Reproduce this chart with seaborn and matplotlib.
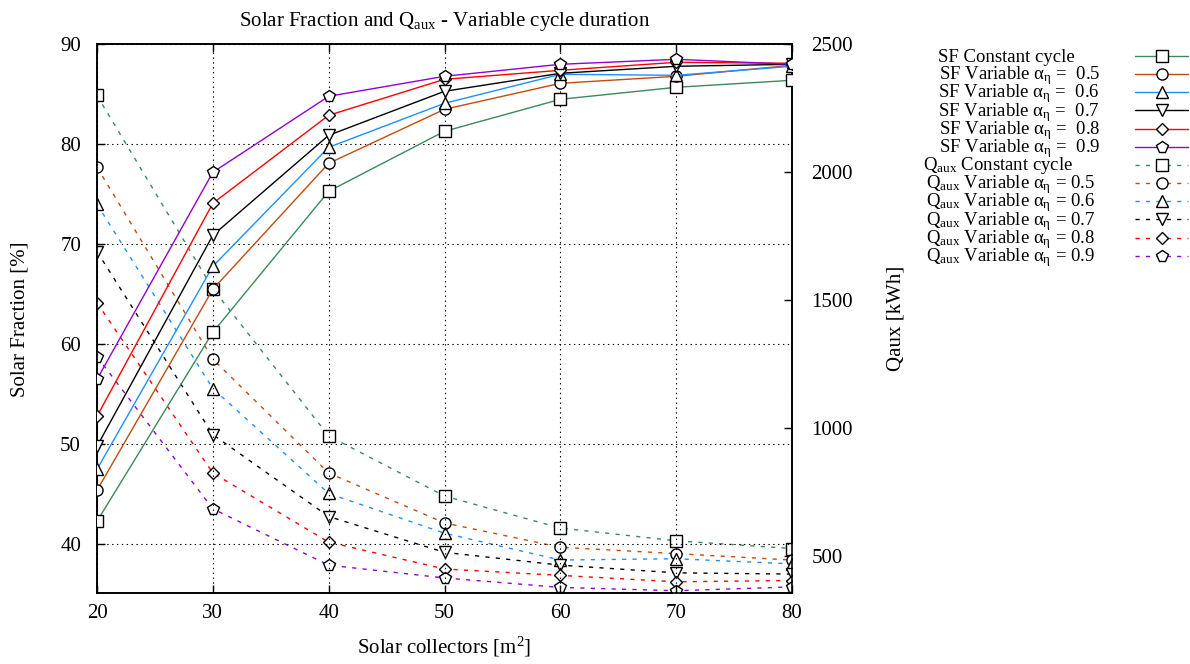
import matplotlib
matplotlib.use("Agg")
import matplotlib.pyplot as plt
from matplotlib.lines import Line2D
import seaborn as sns

# Collector area [m2]
area = [20, 30, 40, 50, 60, 70, 80]

# Solar fraction [%]
sf_constant = [42.3, 61.2, 75.3, 81.3, 84.5, 85.7, 86.4]
sf_a05 = [45.4, 65.5, 78.1, 83.5, 86.1, 86.8, 87.9]
sf_a06 = [47.5, 67.8, 79.7, 84.1, 87.0, 86.9, 87.8]
sf_a07 = [49.8, 70.9, 80.9, 85.3, 87.1, 87.8, 88.0]
sf_a08 = [52.8, 74.1, 82.9, 86.5, 87.4, 88.2, 88.1]
sf_a09 = [56.5, 77.2, 84.8, 86.8, 88.0, 88.5, 88.0]

# Auxiliary energy [kWh]
q_constant = [2300, 1545, 970, 735, 610, 560, 530]
q_a05 = [2020, 1270, 825, 630, 535, 510, 485]
q_a06 = [1875, 1155, 745, 590, 485, 490, 470]
q_a07 = [1690, 975, 655, 515, 465, 435, 430]
q_a08 = [1490, 825, 555, 450, 425, 400, 405]
q_a09 = [1280, 685, 465, 415, 378, 365, 380]

alpha_labels = ["0.5", "0.6", "0.7", "0.8", "0.9"]

sns.set_theme(style="white")
plt.rcParams["font.family"] = ["Liberation Serif", "DejaVu Serif"]
plt.rcParams["mathtext.fontset"] = "custom"
plt.rcParams["mathtext.rm"] = "Liberation Serif"
plt.rcParams["mathtext.it"] = "Liberation Serif:italic"
plt.rcParams["lines.scale_dashes"] = False

colors = ["#3a8a5a", "#c44a10", "#1e90ff", "#000000", "#ff0000", "#9400d3"]
markers = ["s", "o", "^", "v", "D", "p"]
msizes = [8, 8, 8, 8, 6.5, 8.5]

sf_series = [sf_constant, sf_a05, sf_a06, sf_a07, sf_a08, sf_a09]
q_series = [q_constant, q_a05, q_a06, q_a07, q_a08, q_a09]

sf_labels = ["SF Constant cycle"] + [
    "SF Variable α$_{\\mathrm{η}}$ =  " + a for a in alpha_labels]
q_labels = ["Q$_{\\mathrm{aux}}$ Constant cycle"] + [
    "Q$_{\\mathrm{aux}}$ Variable α$_{\\mathrm{η}}$ = " + a for a in alpha_labels]

W, H = 1190, 664
fig = plt.figure(figsize=(W / 100, H / 100), dpi=100)
left, right, top, bottom = 97, 792, 44.3, 593.3
ax = fig.add_axes([left / W, 1 - bottom / H, (right - left) / W, (bottom - top) / H])
ax2 = ax.twinx()

fs = 15
dash = (3, 4.5)
common = dict(markerfacecolor="white", markeredgecolor="black", markeredgewidth=1.0)

for ys, c, m, ms in zip(sf_series, colors, markers, msizes):
    sns.lineplot(x=area, y=ys, ax=ax, color=c, marker=m, markersize=ms,
                 linewidth=1.0, zorder=3, **common)
for ys, c, m, ms in zip(q_series, colors, markers, msizes):
    sns.lineplot(x=area, y=ys, ax=ax2, color=c, marker=m, markersize=ms,
                 linewidth=1.0, dashes=dash, zorder=3, **common)

ax.set_xlim(20, 80)
ax.set_ylim(35.1, 90)
ax2.set_ylim(355, 2500)
ax.set_xticks([20, 30, 40, 50, 60, 70, 80])
ax.set_yticks([40, 50, 60, 70, 80, 90])
ax2.set_yticks([500, 1000, 1500, 2000, 2500])

ax.grid(True, color="black", linestyle=(0, (1, 2.5)), linewidth=0.8)
ax2.grid(False)
ax.set_zorder(ax2.get_zorder() + 1)
ax.patch.set_visible(False)

for a in (ax, ax2):
    for s in a.spines.values():
        s.set_color("black")
        s.set_linewidth(1.2)

ax.tick_params(axis="both", direction="in", length=6, width=1, color="black",
               labelsize=fs, labelcolor="black", top=True, left=True,
               bottom=True, right=False)
ax.tick_params(axis="y", pad=11.5)
ax.tick_params(axis="x", pad=8)
ax2.tick_params(axis="y", direction="in", length=6, width=1, color="black",
                labelsize=fs, labelcolor="black", pad=14, right=True)

ax.set_xlabel("Solar collectors [m$^{2}$]", fontsize=fs, color="black", labelpad=8)
ax.set_ylabel("Solar Fraction [%]", fontsize=fs, color="black", labelpad=22)
ax2.set_ylabel("Qaux [kWh]", fontsize=fs, color="black", rotation=90, labelpad=24)
ax.set_title("Solar Fraction and Q$_{\\mathrm{aux}}$ - Variable cycle duration",
             fontsize=fs, color="black", pad=13)

for a in (ax, ax2):
    leg = a.get_legend()
    if leg is not None:
        leg.remove()

# Key: text right-justified to the left of a short line sample with its marker
lfs = 13.5
row0, row_step = 56.0, 18.15
x_line0, x_line1 = 1135, 1188
labels = sf_labels + q_labels
text_right = [1075, 1100, 1100, 1100, 1100, 1100, 1073, 1095, 1095, 1095, 1095, 1095]
for i, lab in enumerate(labels):
    yc = row0 + i * row_step
    fig.text(text_right[i] / W, 1 - (yc + 5.5) / H, lab, ha="right", va="baseline",
             fontsize=lfs, color="black")
    j = i % 6
    style = dict(color=colors[j], linewidth=1.0)
    if i >= 6:
        style["dashes"] = dash
    fig.add_artist(Line2D([x_line0 / W, x_line1 / W], [1 - yc / H, 1 - yc / H],
                          transform=fig.transFigure, **style))
    fig.add_artist(Line2D([(x_line0 + x_line1) / 2 / W], [1 - yc / H],
                          transform=fig.transFigure, linestyle="none",
                          marker=markers[j], markersize=msizes[j], **common))

fig.savefig("out.png", dpi=100)
